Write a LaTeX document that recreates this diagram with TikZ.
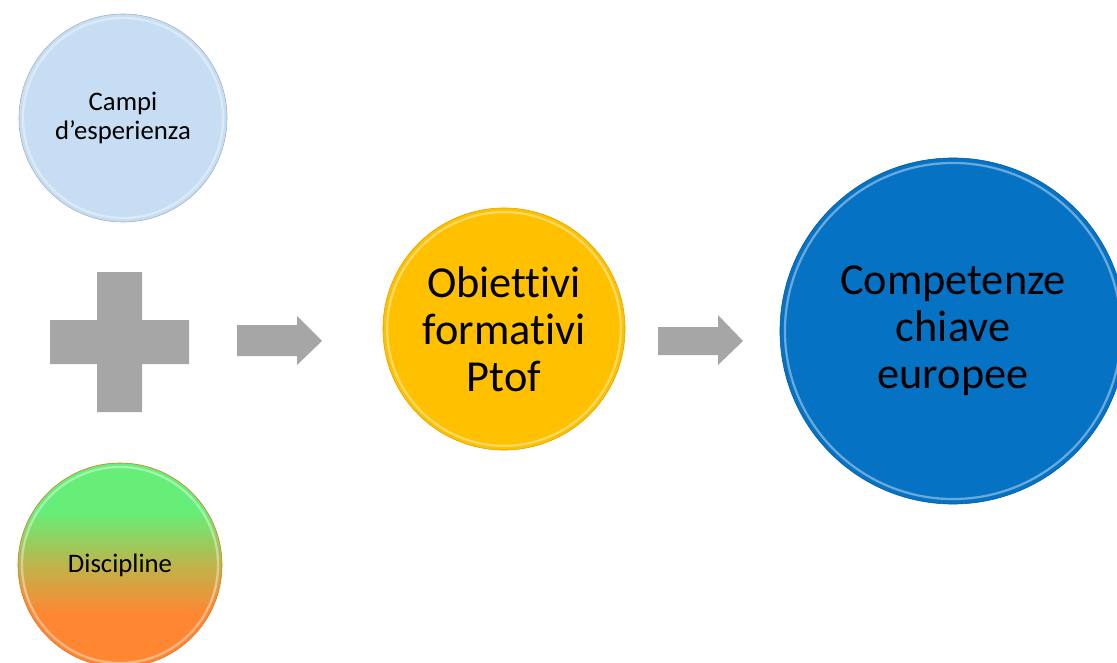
\documentclass[tikz,border=0pt]{standalone}
\usepackage{fontspec}
\setmainfont{Carlito}[Ligatures={NoCommon}]
\usetikzlibrary{positioning}
\definecolor{campiblue}{RGB}{198,221,243}
\definecolor{discgreen}{RGB}{102,238,120}
\definecolor{discmid}{RGB}{190,180,75}
\definecolor{discorange}{RGB}{255,135,50}
\definecolor{ptofgold}{RGB}{255,192,0}
\definecolor{compblue}{RGB}{6,114,196}
\definecolor{shapegray}{RGB}{166,166,166}
\pgfdeclareverticalshading{discshade}{100bp}{color(0bp)=(discorange); color(38bp)=(discorange);
    color(50bp)=(discmid); color(63bp)=(discgreen); color(100bp)=(discgreen)}

\begin{document}
\begin{tikzpicture}[x=0.025cm, y=-0.025cm,
    bubble/.style={circle, inner sep=0pt, align=center},
    smalltext/.style={font=\fontsize{19}{20}\selectfont},
    bigtext/.style={font=\fontsize{31.5}{33.5}\selectfont},
    rim/.style={white, opacity=0.4, line width=1.6pt}]
    \useasboundingbox (0,0) rectangle (1117,663);

    \node[bubble, smalltext, fill=campiblue, draw=campiblue!80!black, minimum size=5.2cm] (campi) at (123,118) {Campi\\d’esperienza};
    \node[bubble, smalltext, shading=discshade, draw=discorange!85!black, minimum size=5.1cm] (disc) at (120,565) {Discipline};
    \node[bubble, bigtext, fill=ptofgold, draw=ptofgold!85!black, minimum size=6.05cm] (ptof) at (504,329) {Obiettivi\\formativi\\Ptof};
    \node[bubble, bigtext, fill=compblue, draw=compblue!80!black, minimum size=8.65cm] (comp) at (953,331) {Competenze\\chiave\\europee};

    % glossy edges
    \draw[rim] (campi.center) circle (2.5cm);
    \draw[rim] (disc.center) circle (2.45cm);
    \draw[rim] (ptof.center) circle (2.92cm);
    \draw[rim] (comp.center) circle (4.2cm);

    % plus sign
    \coordinate (plus) at (120,342);
    \fill[shapegray] (97,272) -- (142,272) -- (142,320) -- (189,320) -- (189,364) -- (142,364)
        -- (142,412) -- (97,412) -- (97,364) -- (50,364) -- (50,320) -- (97,320) -- cycle;

    % block arrows
    \fill[shapegray] (237,325) -- (297,325) -- (297,316) -- (322,341) -- (297,365) -- (297,356) -- (237,356) -- cycle;
    \fill[shapegray] (658,327) -- (718,327) -- (718,315) -- (743,341) -- (718,365) -- (718,355) -- (658,355) -- cycle;
\end{tikzpicture}
\end{document}
